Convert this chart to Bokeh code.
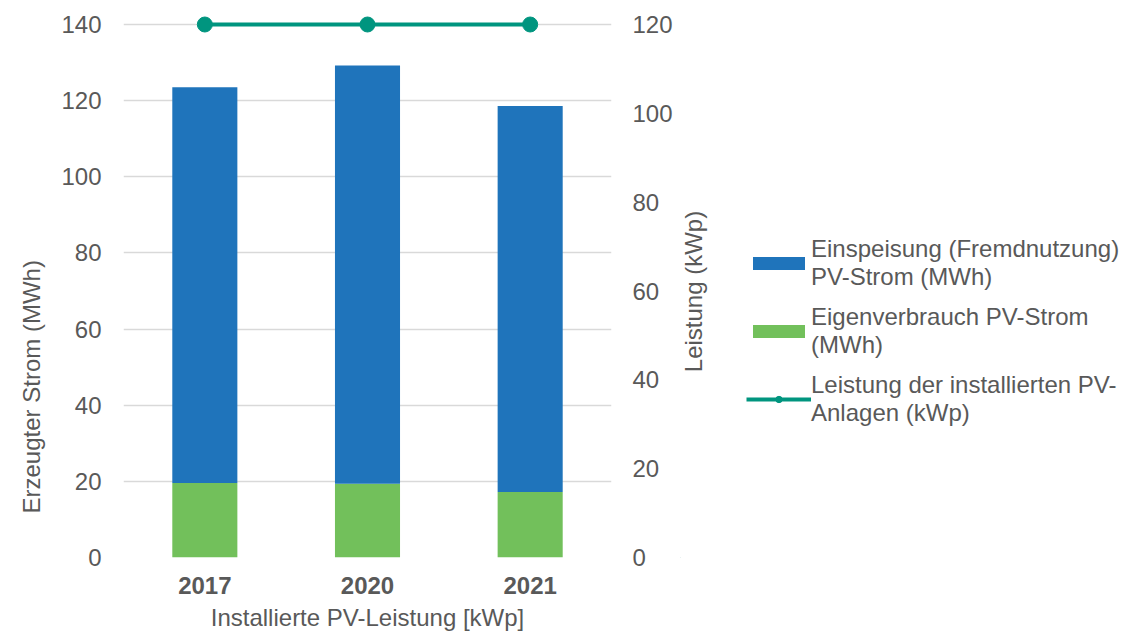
import math

from bokeh.embed import file_html
from bokeh.layouts import row
from bokeh.models import (ColumnDataSource, FactorRange, FixedTicker, Label,
                          Legend, LegendItem, LinearAxis, Range1d, Title)
from bokeh.plotting import figure
from bokeh.resources import INLINE

# --- data -------------------------------------------------------------------
years = ["2017", "2020", "2021"]
einspeisung = [103.9, 109.8, 101.4]      # fed into the grid (MWh)
eigenverbrauch = [19.6, 19.4, 17.2]      # self-consumed (MWh)
leistung = [120, 120, 120]               # installed capacity (kWp)

left_ticks = [0, 20, 40, 60, 80, 100, 120, 140]
right_ticks = [0, 20, 40, 60, 80, 100, 120]

series_labels = [
    "Einspeisung (Fremdnutzung)\nPV-Strom (MWh)",
    "Eigenverbrauch PV-Strom\n(MWh)",
    "Leistung der installierten PV-\nAnlagen (kWp)",
]

# --- style ------------------------------------------------------------------
BLUE = "#1F74BB"
GREEN = "#72C05B"
TEAL = "#00957F"
TEXT = "#595959"
GRID = "#D9D9D9"
FONT = "Liberation Sans"
FS = "24px"

CHART_W, LEGEND_W, H = 680, 441, 633
BORDER_L, BORDER_T, BORDER_B = 123, 4, 76
FRAME_W = 488
# frame reaches 20 px above the top tick so the markers at the top are not cut
TOP_PAD = 20
FRAME_H = H - BORDER_T - BORDER_B
left_max = 140 * FRAME_H / (FRAME_H - TOP_PAD)
right_max = 120 * FRAME_H / (FRAME_H - TOP_PAD)

src = ColumnDataSource(dict(year=years, einspeisung=einspeisung,
                            eigenverbrauch=eigenverbrauch, leistung=leistung))

p = figure(x_range=FactorRange(*years), y_range=Range1d(0, left_max),
           width=CHART_W, height=H,
           output_backend="svg", toolbar_location=None,
           min_border_left=BORDER_L, min_border_right=CHART_W - BORDER_L - FRAME_W,
           min_border_top=BORDER_T, min_border_bottom=BORDER_B)
p.x_range.range_padding = 0
p.extra_y_ranges = {"kwp": Range1d(0, right_max)}
p.outline_line_color = None
p.background_fill_color = "white"
p.border_fill_color = "white"

p.vbar_stack(["eigenverbrauch", "einspeisung"], x="year", width=0.4,
             color=[GREEN, BLUE], line_color=None, source=src)
p.line("year", "leistung", source=src, y_range_name="kwp",
       line_color=TEAL, line_width=4)
p.scatter("year", "leistung", source=src, y_range_name="kwp",
          size=15, fill_color=TEAL, line_color=TEAL)

# grid
p.xgrid.visible = False
p.ygrid.grid_line_color = GRID
p.ygrid.grid_line_width = 1.5


def style_axis(ax):
    ax.axis_line_color = None
    ax.major_tick_line_color = None
    ax.minor_tick_line_color = None
    ax.major_tick_out = 0
    ax.major_tick_in = 0
    ax.major_label_text_font = FONT
    ax.major_label_text_font_size = FS
    ax.major_label_text_color = TEXT
    ax.axis_label_text_font = FONT
    ax.axis_label_text_font_size = FS
    ax.axis_label_text_color = TEXT
    ax.axis_label_text_font_style = "normal"


yl = p.yaxis[0]
yl.ticker = FixedTicker(ticks=left_ticks)
style_axis(yl)
yl.major_label_standoff = 22

yr = LinearAxis(y_range_name="kwp", ticker=FixedTicker(ticks=right_ticks))
style_axis(yr)
yr.major_label_standoff = 21
p.add_layout(yr, "right")

xa = p.xaxis[0]
style_axis(xa)
xa.major_label_text_font_style = "bold"
xa.major_label_standoff = 19
xa.axis_label = "Installierte PV-Leistung [kWp]"
xa.axis_label_standoff = 7

# title of the left value axis, set lower along the axis
p.add_layout(Title(text="Erzeugter Strom (MWh)", align="left", offset=44,
                   standoff=28, text_font=FONT, text_font_size=FS,
                   text_color=TEXT, text_font_style="normal"), "left")

# --- side panel: right axis title and legend ------------------------------------
# swatch renderers for the legend; their points lie outside the panel's
# ranges, so only the legend glyphs are seen
lg = figure(width=LEGEND_W, height=H, x_range=Range1d(0, 1), y_range=Range1d(0, 1),
            output_backend="svg", toolbar_location=None,
            x_axis_type=None, y_axis_type=None,
            min_border=0, min_border_left=0, min_border_right=0,
            min_border_top=0, min_border_bottom=0)
lg.outline_line_color = None
lg.xgrid.visible = False
lg.ygrid.visible = False

off = dict(x=[-5, -4], y=[-5, -5])
sw_blue = lg.vbar(x=[-5], top=[-4], bottom=[-5], width=0.4, color=BLUE, line_color=None)
sw_green = lg.vbar(x=[-5], top=[-4], bottom=[-5], width=0.4, color=GREEN, line_color=None)
sw_line = lg.line(x=off["x"], y=off["y"], line_color=TEAL, line_width=4)
sw_dot = lg.scatter(x=off["x"], y=off["y"], size=15, fill_color=TEAL, line_color=TEAL)

# title of the right value axis, reading upwards
lg.add_layout(Label(x=13, y=266, x_units="screen", y_units="screen",
                    text="Leistung (kWp)", angle=math.pi / 2,
                    text_align="center", text_baseline="middle",
                    text_font=FONT, text_font_size=FS, text_color=TEXT))

legend = Legend(items=[
    LegendItem(label=series_labels[0], renderers=[sw_blue]),
    LegendItem(label=series_labels[1], renderers=[sw_green]),
    LegendItem(label=series_labels[2], renderers=[sw_line, sw_dot]),
], location=(66, 130), padding=0, margin=0, spacing=12,
    glyph_width=65, glyph_height=16, label_standoff=0,
    label_text_font=FONT, label_text_font_size=FS, label_text_color=TEXT,
    label_text_line_height=1.1, border_line_color=None, background_fill_alpha=0)
lg.add_layout(legend)

page = row(p, lg, spacing=0)
open("out.html", "w").write(file_html(page, INLINE))
